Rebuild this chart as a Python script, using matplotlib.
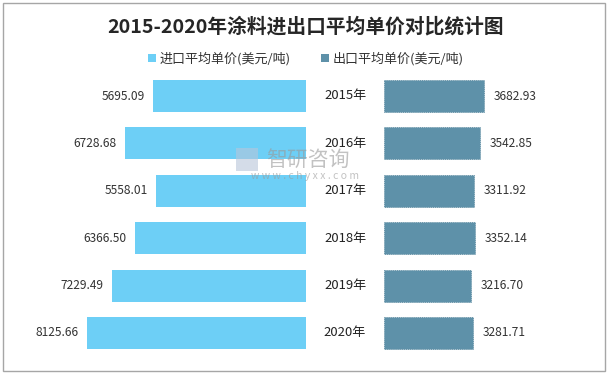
import matplotlib
matplotlib.use("Agg")
import matplotlib.pyplot as plt
from matplotlib.patches import Rectangle, Patch

plt.rcParams['font.family'] = ['Noto Sans CJK SC', 'DejaVu Sans']

years = ["2015年", "2016年", "2017年", "2018年", "2019年", "2020年"]
import_price = [5695.09, 6728.68, 5558.01, 6366.50, 7229.49, 8125.66]
export_price = [3682.93, 3542.85, 3311.92, 3352.14, 3216.70, 3281.71]
series_names = ["进口平均单价(美元/吨)", "出口平均单价(美元/吨)"]
title = "2015-2020年涂料进出口平均单价对比统计图"

c_imp = "#6DCFF6"
c_exp = "#5E91A9"

W, H = 610, 375
fig = plt.figure(figsize=(W / 100, H / 100), dpi=100)

def fx(px):
    return px / W

def fy(py):
    return 1 - py / H

top_px, bot_px = 72.3, 356.7
ax_b = fy(bot_px)
ax_h = (bot_px - top_px) / H

l_left, l_right = 20, 306
axL = fig.add_axes([fx(l_left), ax_b, fx(l_right - l_left), ax_h])
axL.set_xlim((l_right - l_left) / 0.0269, 0)
r_left, r_right = 384, 592
axR = fig.add_axes([fx(r_left), ax_b, fx(r_right - r_left), ax_h])
axR.set_xlim(0, (r_right - r_left) / 0.0271)

pos = list(range(len(years)))
axL.barh(pos, import_price, height=0.675, color=c_imp)
axR.barh(pos, export_price, height=0.675, color=c_exp,
         edgecolor="#52839A", linestyle=(0, (1.5, 1.5)), linewidth=0.5)

for ax in (axL, axR):
    ax.set_ylim(len(years) - 0.5, -0.5)
    ax.axis("off")

for i, v in enumerate(import_price):
    axL.annotate(f"{v:.2f}", (v, i), xytext=(-6, 0), textcoords="offset points",
                 ha="right", va="center", fontsize=8.6, color="#333333")
for i, v in enumerate(export_price):
    axR.annotate(f"{v:.2f}", (v, i), xytext=(7, 0), textcoords="offset points",
                 ha="left", va="center", fontsize=8.6, color="#333333")

for i, y in enumerate(years):
    axR.annotate(y, (0, i), xytext=(-(r_left - 345) * 0.72, 0), textcoords="offset points",
                 ha="center", va="center", fontsize=9.4, color="#222222",
                 annotation_clip=False, zorder=5)

fig.text(fx(306), fy(27), title, ha="center", va="center", fontsize=14.2,
         fontweight="bold", color="#262626")

handles = [Patch(facecolor=c_imp), Patch(facecolor=c_exp)]
fig.legend(handles, series_names, loc="center", bbox_to_anchor=(fx(306), fy(59)),
           ncol=2, frameon=False, fontsize=9.4, handlelength=0.6, handleheight=0.6,
           handletextpad=0.3, columnspacing=2.3, labelcolor="#333333")

# watermark (kept clear of the year labels)
fig.text(fx(266), fy(160), "智研咨询", ha="left", va="center", fontsize=15,
         color="#9a9a9a", alpha=0.6, zorder=0)
fig.text(fx(305), fy(176), "w w w . c h y x x . c o m", ha="center", va="center",
         fontsize=7.5, color="#9a9a9a", alpha=0.6, zorder=0)
fig.patches.append(Rectangle((fx(236), fy(171)), fx(22), 23 / H, transform=fig.transFigure,
                             facecolor="#B8C6DA", alpha=0.6, edgecolor="none"))

fig.patches.append(Rectangle((fx(3), fy(371)), fx(602), 368 / H, transform=fig.transFigure,
                             facecolor="none", edgecolor="#A6A6A6", linewidth=1))

fig.savefig("out.png", dpi=100)
